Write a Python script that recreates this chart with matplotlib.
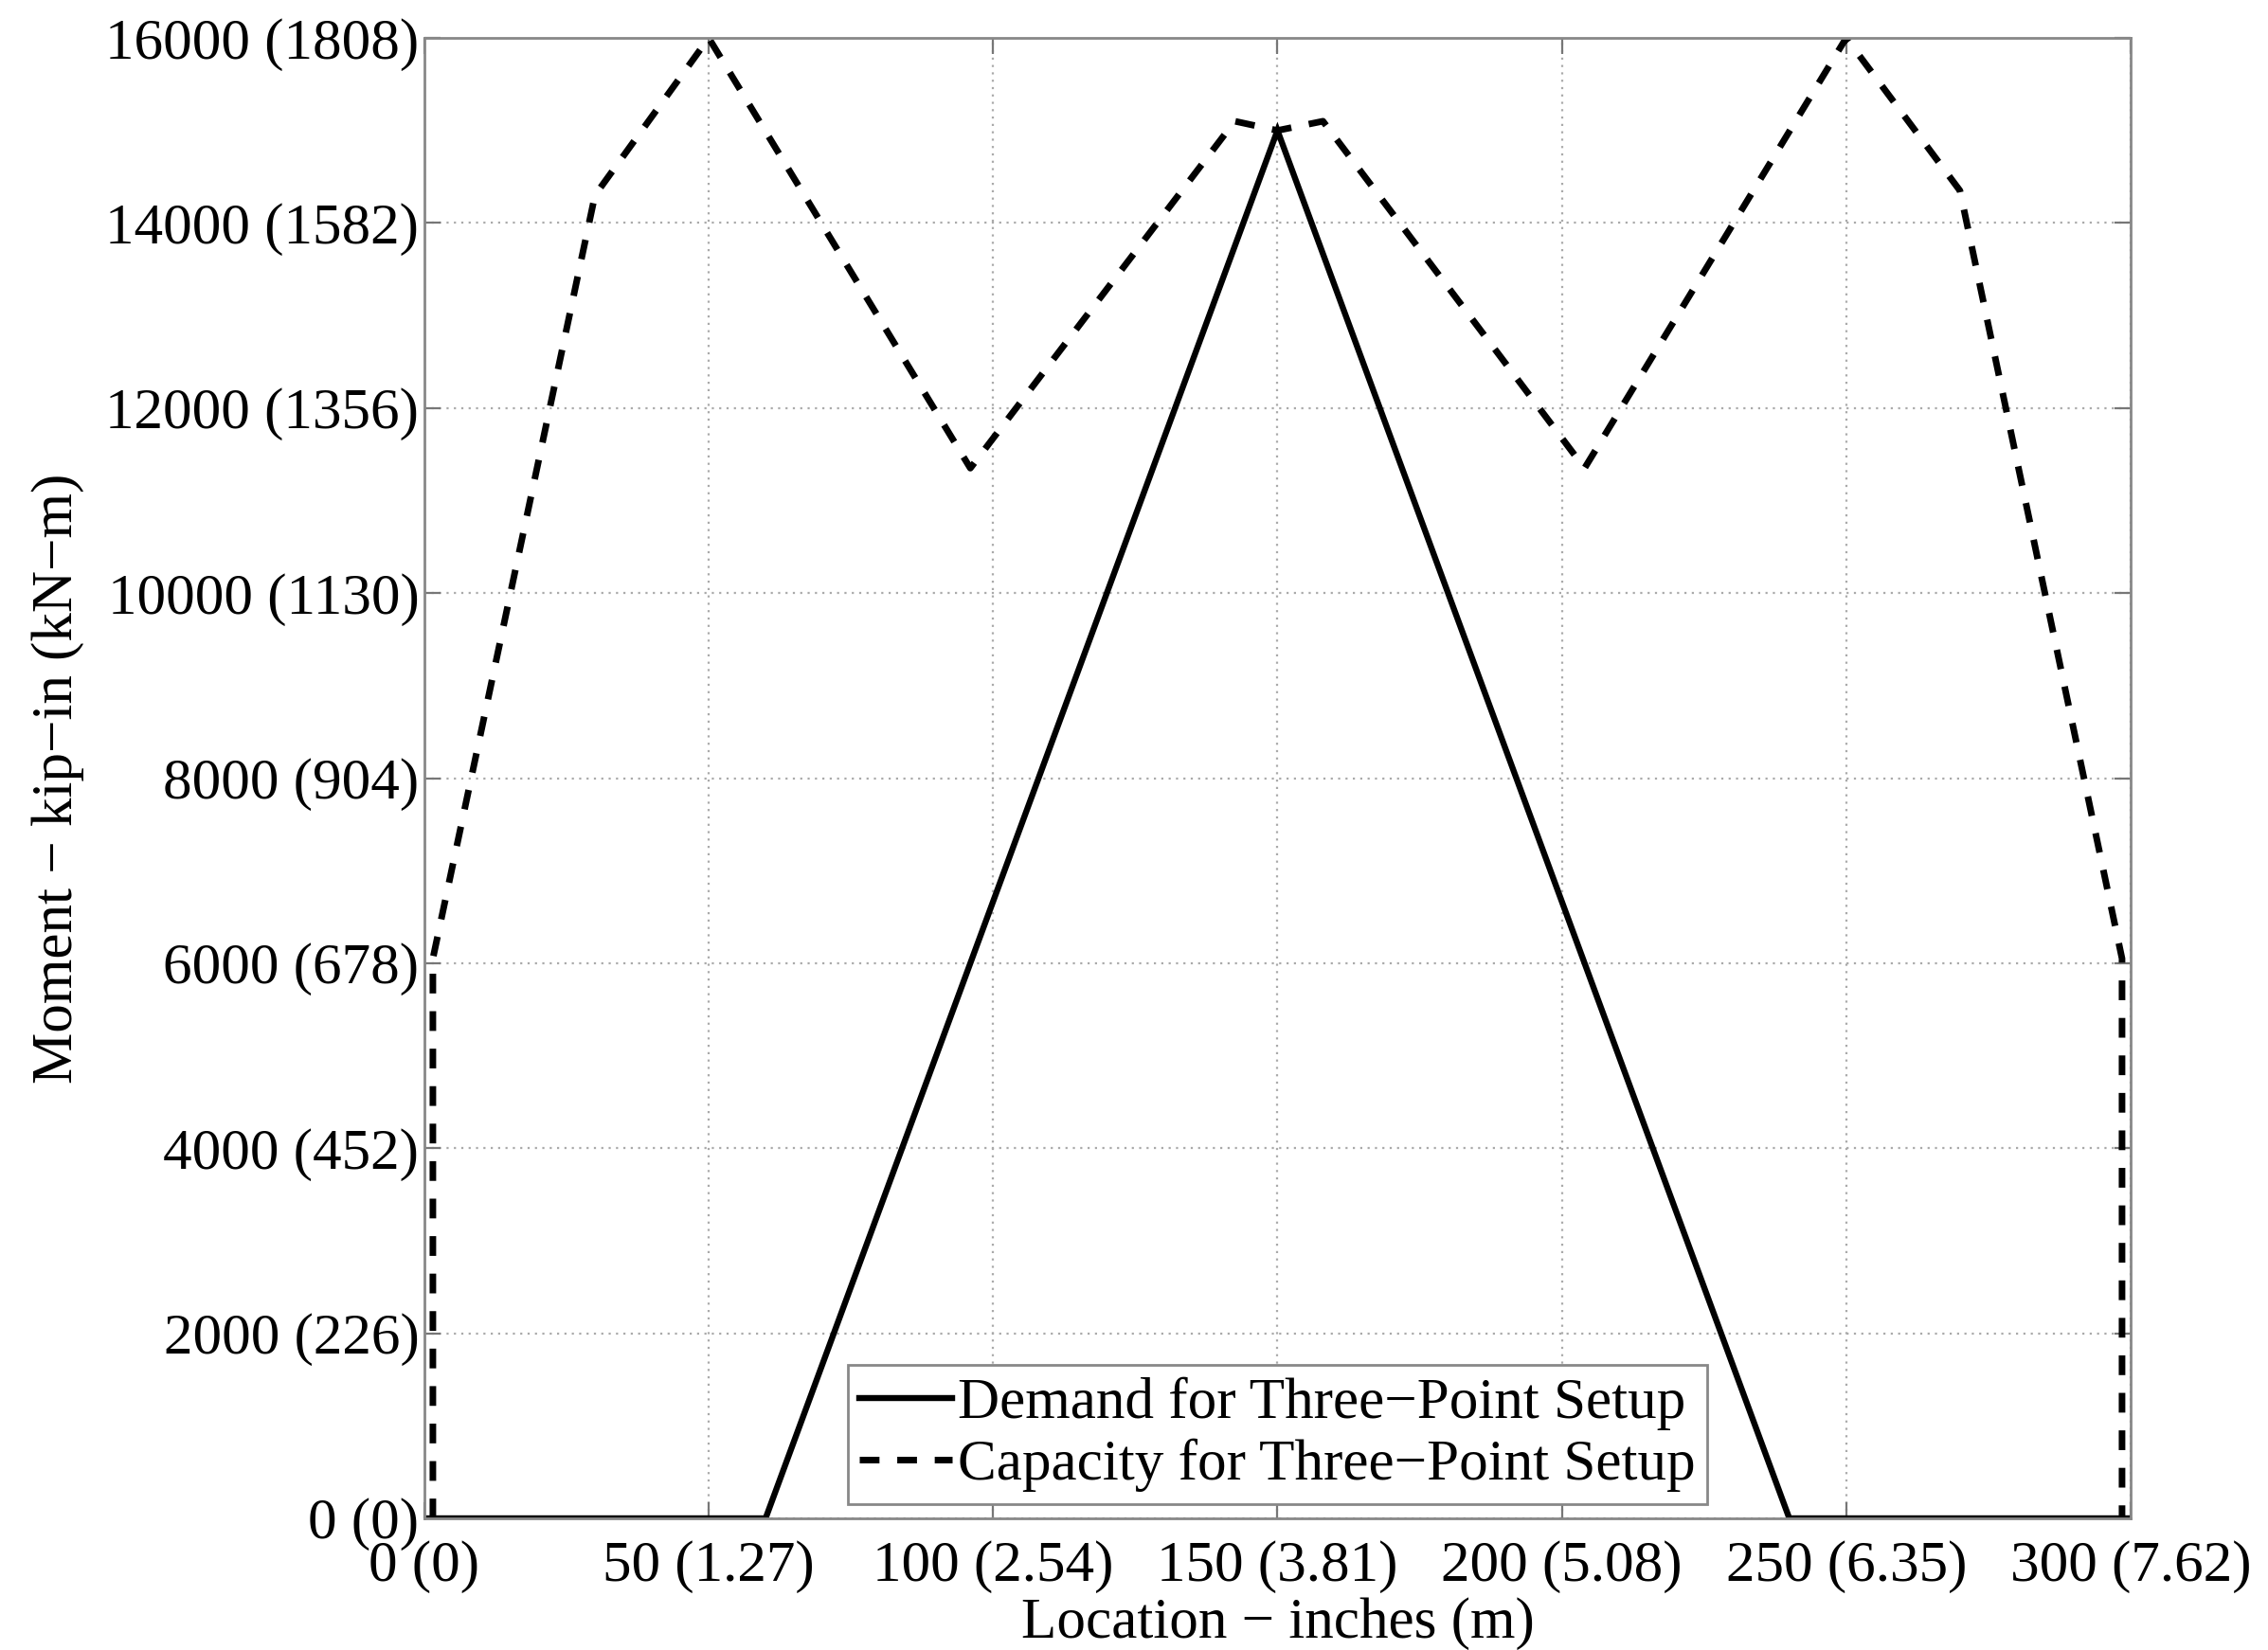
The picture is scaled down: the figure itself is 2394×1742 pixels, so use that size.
import matplotlib
matplotlib.use("Agg")
import matplotlib.pyplot as plt
from matplotlib.ticker import FixedLocator

# ---- data ----
demand_x = [0, 60, 150, 240, 300]
demand_y = [0, 0, 15000, 0, 0]

capacity_x = [1.5, 1.5, 30, 50, 96, 142.5, 150, 158, 204, 250, 270, 298.5, 298.5]
capacity_y = [0, 6050, 14300, 16000, 11350, 15100, 15000, 15100, 11350, 16000, 14350, 6050, 0]

x_ticks = [0, 50, 100, 150, 200, 250, 300]
x_tick_labels = ["0 (0)", "50 (1.27)", "100 (2.54)", "150 (3.81)",
                 "200 (5.08)", "250 (6.35)", "300 (7.62)"]
y_ticks = [0, 2000, 4000, 6000, 8000, 10000, 12000, 14000, 16000]
y_tick_labels = ["0 (0)", "2000 (226)", "4000 (452)", "6000 (678)", "8000 (904)",
                 "10000 (1130)", "12000 (1356)", "14000 (1582)", "16000 (1808)"]

series_labels = ["Demand for Three\u2212Point Setup", "Capacity for Three\u2212Point Setup"]
x_label = "Location \u2212 inches (m)"
y_label = "Moment \u2212 kip\u2212in (kN\u2212m)"

plt.rcParams['font.family'] = ['Liberation Serif', 'DejaVu Serif']
FS = 22

fig = plt.figure(figsize=(11.97, 8.71), dpi=200)
ax = fig.add_axes([0.1871, 0.0798, 0.9394 - 0.1871, 0.977 - 0.0798])

ax.plot(demand_x, demand_y, color='black', lw=2.3, solid_joinstyle='miter',
        label=series_labels[0])
ax.plot(capacity_x, capacity_y, color='black', lw=2.5, linestyle=(0, (3.0, 2.7)),
        label=series_labels[1])

ax.set_xlim(0, 300)
ax.set_ylim(0, 16000)
ax.xaxis.set_major_locator(FixedLocator(x_ticks))
ax.yaxis.set_major_locator(FixedLocator(y_ticks))
ax.set_xticklabels(x_tick_labels, fontsize=FS)
ax.set_yticklabels(y_tick_labels, fontsize=FS)

ax.tick_params(direction='in', length=6, width=0.8, color='#777777',
               top=True, right=True)
ax.tick_params(axis='x', pad=8.5)
ax.tick_params(axis='y', pad=2)
for s in ax.spines.values():
    s.set_color('#888888')
    s.set_linewidth(1.0)

ax.grid(True, linestyle=(0, (1, 2.5)), color='#aaaaaa', lw=0.8)
ax.set_axisbelow(True)

ax.set_xlabel(x_label, fontsize=FS, labelpad=1.5)
ax.set_ylabel(y_label, fontsize=FS, labelpad=8)

leg = ax.legend(loc='lower center', fontsize=FS, frameon=True, fancybox=False,
                edgecolor='#888888', framealpha=1.0, handlelength=1.6,
                handletextpad=0.1, labelspacing=0.15, borderpad=0.2,
                borderaxespad=0.25)
leg.get_frame().set_linewidth(1.0)

fig.savefig("out.png", dpi=200)
